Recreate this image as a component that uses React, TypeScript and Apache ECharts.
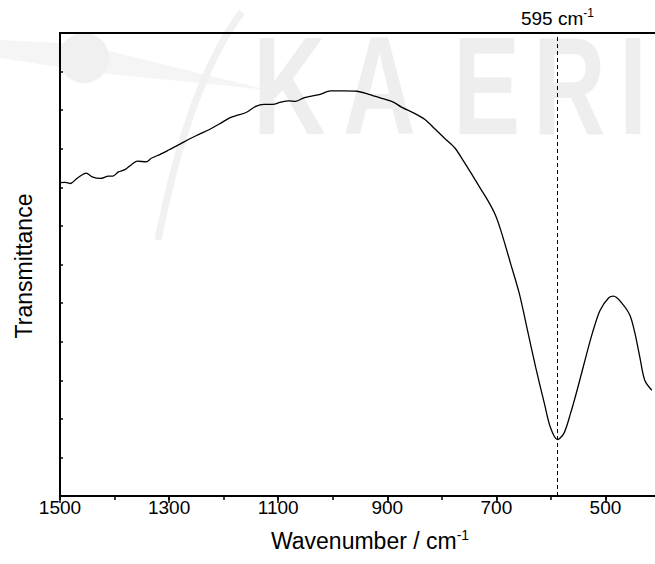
import React, { useEffect, useRef } from "react";
import * as echarts from "echarts";

// Wavenumber (cm^-1), decreasing along the plot
const wavenumbers = [
  1500, 1490, 1481, 1469, 1452, 1441, 1426, 1411, 1403, 1393, 1381, 1368, 1358, 1342, 1332, 1317,
  1299, 1280, 1262, 1244, 1226, 1208, 1189, 1177, 1159, 1141, 1126, 1110, 1095, 1080, 1068, 1053,
  1044, 1025, 1004, 980, 956, 934, 913, 889, 874, 849, 831, 813, 794, 776, 761, 746, 731, 716, 703,
  692, 674, 658, 643, 628, 612, 601, 588, 576, 564, 552, 539, 524, 510, 494, 485, 470, 455, 446,
  437, 428, 415,
];
// Transmittance (arbitrary units, in y-tick steps)
const transmittance = [
  8.12, 8.13, 8.1, 8.23, 8.37, 8.27, 8.23, 8.29, 8.29, 8.4, 8.46, 8.6, 8.68, 8.66, 8.76, 8.85,
  8.98, 9.12, 9.26, 9.38, 9.5, 9.64, 9.8, 9.86, 9.94, 10.1, 10.15, 10.15, 10.21, 10.24, 10.23, 10.32,
  10.35, 10.4, 10.5, 10.5, 10.49, 10.41, 10.32, 10.21, 10.08, 9.91, 9.76, 9.52, 9.26, 9.02, 8.7,
  8.36, 8.01, 7.67, 7.32, 6.89, 6.03, 5.25, 4.3, 3.34, 2.4, 1.78, 1.46, 1.63, 2.14, 2.74, 3.44,
  4.22, 4.81, 5.14, 5.18, 5.0, 4.68, 4.22, 3.6, 3.0, 2.74,
];
const majorTickLabels = [1500, 1300, 1100, 900, 700, 500];
const peakPosition = 588;
const peakLabel = "595";
const xTitle = "Wavenumber / cm";
const yTitle = "Transmittance";
const watermarkLetters = ["K", "A", "E", "R", "I"];
const watermarkX = [253, 343, 453, 533, 619];

const FONT = "'Liberation Sans', Arial, Helvetica, sans-serif";

export default function App() {
  const ref = useRef<HTMLDivElement>(null);
  useEffect(() => {
    if (!ref.current) return;
    const chart = echarts.init(ref.current, undefined, { renderer: "svg" });
    const data = wavenumbers.map((w, i) => [w, transmittance[i]]);
    const letters = watermarkLetters.map((ch, i) => ({
      type: "text",
      x: watermarkX[i],
      y: 16,
      scaleX: 0.72,
      z: -10,
      silent: true,
      style: {
        text: ch,
        fontSize: 140,
        lineHeight: 140,
        fontWeight: "bold",
        fontFamily: FONT,
        fill: "#eeeeee",
        align: "left",
        verticalAlign: "top",
      },
    }));
    chart.setOption({
      animation: false,
      backgroundColor: "#ffffff",
      textStyle: { fontFamily: FONT },
      grid: { left: 60, right: 0, top: 33, bottom: 68, show: true, borderColor: "#000", borderWidth: 2, backgroundColor: "transparent" },
      xAxis: [
        {
          type: "value",
          min: 400,
          max: 1500,
          interval: 100,
          inverse: true,
          axisLine: { show: true, onZero: false, lineStyle: { color: "#000", width: 2 } },
          axisTick: { show: true, length: 4, lineStyle: { color: "#000", width: 1.5 } },
          axisLabel: {
            show: true,
            margin: 2,
            fontSize: 19,
            color: "#000",
            fontFamily: FONT,
            formatter: (v: number) => (majorTickLabels.includes(v) ? String(v) : ""),
          },
          splitLine: { show: false },
        },
        {
          type: "value",
          min: 400,
          max: 1500,
          inverse: true,
          position: "bottom",
          axisLine: { show: false },
          axisTick: { show: true, length: 7, customValues: majorTickLabels, lineStyle: { color: "#000", width: 1.5 } },
          axisLabel: { show: false },
          splitLine: { show: false },
        },
      ],
      yAxis: {
        type: "value",
        min: 0,
        max: 12,
        interval: 1,
        axisLine: { show: true, onZero: false, lineStyle: { color: "#000", width: 2 } },
        axisTick: { show: true, inside: true, length: 3, lineStyle: { color: "#000", width: 1.5 } },
        axisLabel: { show: false },
        splitLine: { show: false },
      },
      graphic: [
        ...letters,
        {
          type: "polygon",
          z: -11,
          silent: true,
          shape: { points: [[0, 40], [80, 44], [268, 90], [90, 72], [0, 58]] },
          style: { fill: "#f5f5f5" },
        },
        {
          type: "circle",
          z: -10,
          silent: true,
          shape: { cx: 84, cy: 58, r: 25 },
          style: { fill: "#f0f0f0" },
        },
        {
          type: "bezierCurve",
          z: -10,
          silent: true,
          shape: { x1: 242, y1: 12, cpx1: 190, cpy1: 80, x2: 158, y2: 240 },
          style: { stroke: "#f1f1f1", lineWidth: 7, fill: "none" },
        },
        {
          type: "text",
          x: 370,
          y: 541,
          z: 10,
          style: {
            text: `{a|${xTitle}}{s|-1}`,
            align: "center",
            verticalAlign: "middle",
            rich: {
              a: { fontSize: 23, fontFamily: FONT, fill: "#000", color: "#000", lineHeight: 26 },
              s: { fontSize: 14, fontFamily: FONT, fill: "#000", color: "#000", verticalAlign: "top", lineHeight: 14 },
            },
          },
        },
        {
          type: "text",
          x: 24,
          y: 266,
          rotation: Math.PI / 2,
          z: 10,
          style: {
            text: yTitle,
            fontSize: 23,
            fontFamily: FONT,
            fill: "#000",
            align: "center",
            verticalAlign: "middle",
          },
        },
      ],
      series: [
        {
          type: "line",
          xAxisIndex: 0,
          yAxisIndex: 0,
          data,
          showSymbol: false,
          smooth: 0.3,
          clip: true,
          lineStyle: { color: "#000", width: 1.3 },
          z: 5,
          markLine: {
            silent: true,
            symbol: "none",
            animation: false,
            lineStyle: { color: "#000", type: [4, 3], width: 1 },
            label: {
              show: true,
              position: "end",
              distance: 4,
              formatter: `{a|${peakLabel} cm}{s|-1}`,
              rich: {
                a: { fontSize: 19, fontFamily: FONT, color: "#000", lineHeight: 22 },
                s: { fontSize: 12, fontFamily: FONT, color: "#000", verticalAlign: "top", lineHeight: 12 },
              },
            },
            data: [{ xAxis: peakPosition }],
          },
        },
      ],
    });
    return () => chart.dispose();
  }, []);
  return (
    <div style={{ position: "absolute", left: 0, top: 0, width: 655, height: 564, overflow: "hidden", background: "#fff" }}>
      <div ref={ref} style={{ position: "absolute", left: 0, top: 0, width: 663, height: 564 }} />
    </div>
  );
}
